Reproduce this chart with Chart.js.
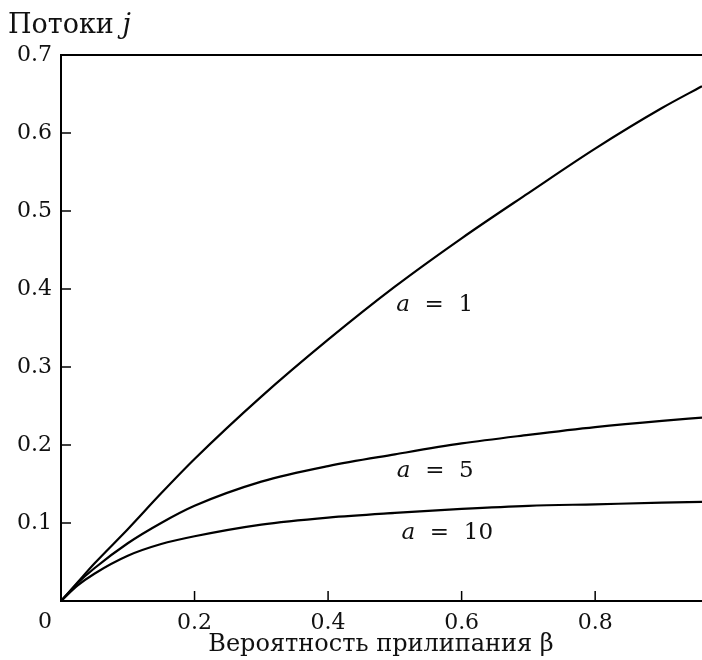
<!DOCTYPE html>
<html>
<head>
<meta charset="utf-8">
<script src="https://cdn.jsdelivr.net/npm/chart.js@4.4.0/dist/chart.umd.min.js"></script>
<style>
body{margin:0;background:#fff;}
</style>
</head>
<body>
<canvas id="fluxChart" width="702" height="660"></canvas>
<script>
// sticking probability beta (x) and flux j for a = 1, 5, 10
const beta = [0, 0.025, 0.05, 0.1, 0.15, 0.2, 0.3, 0.4, 0.5, 0.6, 0.7, 0.8, 0.9, 0.96];
const fluxA1 = [0, 0.024, 0.048, 0.092, 0.138, 0.182, 0.262, 0.335, 0.403, 0.465, 0.523, 0.58, 0.632, 0.66];
const fluxA5 = [0, 0.023, 0.042, 0.074, 0.100, 0.122, 0.153, 0.173, 0.188, 0.202, 0.213, 0.223, 0.231, 0.235];
const fluxA10 = [0, 0.020, 0.035, 0.058, 0.073, 0.083, 0.098, 0.107, 0.113, 0.118, 0.122, 0.124, 0.126, 0.127];

const xTicks = [0, 0.2, 0.4, 0.6, 0.8];
const yTicks = [0.1, 0.2, 0.3, 0.4, 0.5, 0.6, 0.7];

const curveNames = ["1", "5", "10"];
const labelBeta = [0.555, 0.556, 0.574];
const labelFlux = [0.38, 0.166, 0.087];

const serif = "'DejaVu Serif', 'Liberation Serif', serif";

function toPoints(ys){
return beta.map((b, i) => ({x: b, y: ys[i]}));
}

function curve(ys){
return {
data: toPoints(ys),
borderColor: "#000",
borderWidth: 2.2,
pointRadius: 0,
fill: false,
cubicInterpolationMode: "monotone"
};
}

const extras = {
id: "extras",
afterDraw(chart){
const ctx = chart.ctx;
const area = chart.chartArea;
const xs = chart.scales.x;
const ys = chart.scales.y;
ctx.save();
ctx.strokeStyle = "#000";
ctx.lineWidth = 2;

// top frame line
ctx.beginPath();
ctx.moveTo(area.left, area.top);
ctx.lineTo(area.right, area.top);
ctx.stroke();

// inward ticks
ctx.lineWidth = 1.5;
xTicks.forEach(v => {
if(v === 0) return;
const px = xs.getPixelForValue(v);
ctx.beginPath();
ctx.moveTo(px, area.bottom);
ctx.lineTo(px, area.bottom - 10);
ctx.stroke();
});
yTicks.forEach(v => {
const py = ys.getPixelForValue(v);
ctx.beginPath();
ctx.moveTo(area.left, py);
ctx.lineTo(area.left + 10, py);
ctx.stroke();
});

ctx.fillStyle = "#111";
ctx.textBaseline = "middle";

// origin label sits left of the axis in the reference
ctx.font = "22px " + serif;
ctx.textAlign = "center";
ctx.fillText("0", xs.getPixelForValue(0) - 16, area.bottom + 21);

// axis titles
ctx.font = "27px " + serif;
ctx.textAlign = "left";
const t1 = "Потоки ";
ctx.fillText(t1, 8, 26);
const w1 = ctx.measureText(t1).width;
ctx.font = "italic 27px " + serif;
ctx.fillText("j", 8 + w1, 26);

ctx.font = "24px " + serif;
ctx.textAlign = "center";
ctx.fillText("Вероятность прилипания β", 381, 645);

// curve labels
curveNames.forEach((name, i) => {
const cx = xs.getPixelForValue(labelBeta[i]);
const cy = ys.getPixelForValue(labelFlux[i]);
ctx.font = "italic 23px " + serif;
const wa = ctx.measureText("a").width;
ctx.font = "23px " + serif;
const rest = "  =  " + name;
const wr = ctx.measureText(rest).width;
const start = cx - (wa + wr) / 2 + 3;
ctx.textAlign = "left";
ctx.font = "italic 23px " + serif;
ctx.fillText("a", start, cy);
ctx.font = "23px " + serif;
ctx.fillText(rest, start + wa, cy);
});
ctx.restore();
}
};

new Chart(document.getElementById("fluxChart"), {
type: "line",
data: {
datasets: [curve(fluxA1), curve(fluxA5), curve(fluxA10)]
},
options: {
responsive: false,
animation: false,
layout: { padding: { top: 55, left: 0, right: 0, bottom: 0 } },
plugins: {
legend: { display: false },
tooltip: { enabled: false }
},
scales: {
x: {
type: "linear",
min: 0,
max: 0.96,
afterBuildTicks: s => { s.ticks = xTicks.map(v => ({value: v})); },
afterFit: s => { s.height = 59; },
grid: { display: false, drawTicks: false },
border: { display: true, color: "#000", width: 2 },
ticks: {
padding: 9,
color: "#111",
font: { family: serif, size: 22 },
callback: v => v === 0 ? "" : v.toFixed(1)
}
},
y: {
type: "linear",
min: 0,
max: 0.7,
afterBuildTicks: s => { s.ticks = yTicks.map(v => ({value: v})); },
afterFit: s => { s.width = 61; },
grid: { display: false, drawTicks: false },
border: { display: true, color: "#000", width: 2 },
ticks: {
padding: 9,
color: "#111",
font: { family: serif, size: 22 },
callback: v => v.toFixed(1)
}
}
}
},
plugins: [extras]
});
</script>
</body>
</html>
